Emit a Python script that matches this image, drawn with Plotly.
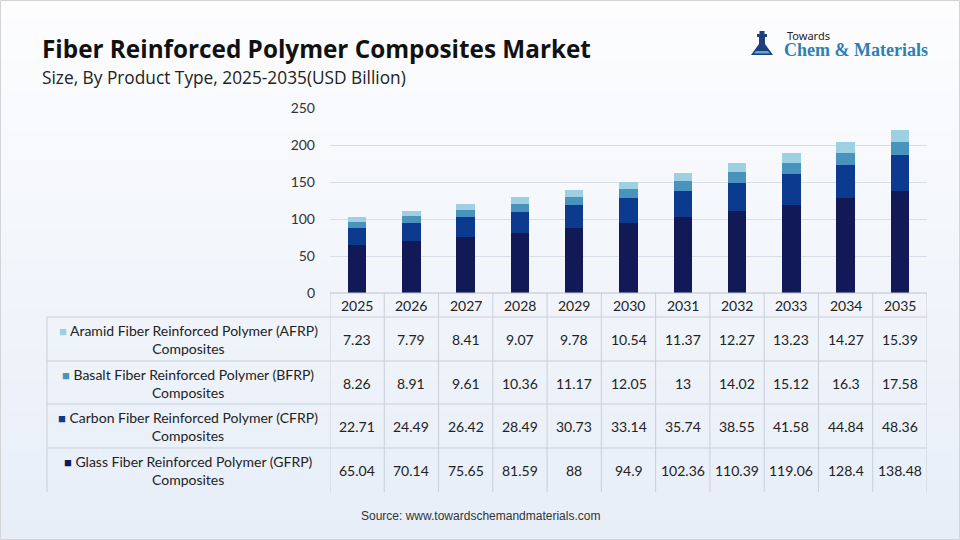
import plotly.graph_objects as go

years = ["2025", "2026", "2027", "2028", "2029", "2030", "2031", "2032", "2033", "2034", "2035"]
aramid = [7.23, 7.79, 8.41, 9.07, 9.78, 10.54, 11.37, 12.27, 13.23, 14.27, 15.39]
basalt = [8.26, 8.91, 9.61, 10.36, 11.17, 12.05, 13, 14.02, 15.12, 16.3, 17.58]
carbon = [22.71, 24.49, 26.42, 28.49, 30.73, 33.14, 35.74, 38.55, 41.58, 44.84, 48.36]
glass = [65.04, 70.14, 75.65, 81.59, 88, 94.9, 102.36, 110.39, 119.06, 128.4, 138.48]

series_names = [
    "Aramid Fiber Reinforced Polymer (AFRP) Composites",
    "Basalt Fiber Reinforced Polymer (BFRP) Composites",
    "Carbon Fiber Reinforced Polymer (CFRP) Composites",
    "Glass Fiber Reinforced Polymer (GFRP) Composites",
]
series_short = [
    "Aramid Fiber Reinforced Polymer (AFRP)",
    "Basalt Fiber Reinforced Polymer (BFRP)",
    "Carbon Fiber Reinforced Polymer (CFRP)",
    "Glass Fiber Reinforced Polymer (GFRP)",
]
series_values = [aramid, basalt, carbon, glass]
colors = ["#9dd0e3", "#4a93bd", "#0b3a8e", "#111a56"]

W, H = 960, 540
X0, X1 = 330, 927
Y0, Y1 = 108, 293
TEXT_FONT = "Lato, Carlito, 'Open Sans', sans-serif"


def py(p):
    return 1 - p / H


def px(p):
    return p / W


fig = go.Figure()

# stacked bars, bottom to top: glass, carbon, basalt, aramid
for i in [3, 2, 1, 0]:
    fig.add_trace(go.Bar(
        x=years, y=series_values[i], name=series_names[i],
        marker=dict(color=colors[i], line=dict(width=0)),
        hoverinfo="x+y+name",
    ))

shapes = []
# background gradient
top = (253, 253, 254)
bot = (231, 238, 248)
n = 54
for k in range(n):
    t = k / (n - 1)
    c = tuple(round(top[j] + (bot[j] - top[j]) * t) for j in range(3))
    shapes.append(dict(type="rect", xref="paper", yref="paper", layer="below",
                       x0=0, x1=1, y0=py((k + 1) * H / n + 0.5), y1=py(k * H / n),
                       fillcolor="rgb(%d,%d,%d)" % c, line=dict(width=0)))
# outer border
shapes.append(dict(type="rect", xref="paper", yref="paper", x0=px(0.5), x1=px(W - 0.5),
                   y0=py(H - 0.5), y1=py(0.5), line=dict(color="#d2d4d8", width=1)))

line_col = "#c8cfd9"
# table horizontal lines
shapes.append(dict(type="line", xref="paper", yref="paper", x0=px(X0), x1=px(X1),
                   y0=py(293), y1=py(293), line=dict(color="#bcc3cd", width=1)))
for yy in [317, 361, 404, 448]:
    shapes.append(dict(type="line", xref="paper", yref="paper", x0=px(47), x1=px(X1),
                       y0=py(yy), y1=py(yy), line=dict(color=line_col, width=1)))
# table vertical lines (on category boundaries)
for k in range(len(years) + 1):
    shapes.append(dict(type="line", xref="x", yref="paper", x0=k - 0.5, x1=k - 0.5,
                       y0=py(492), y1=py(293), line=dict(color=line_col, width=1)))
shapes.append(dict(type="line", xref="paper", yref="paper", x0=px(47), x1=px(47),
                   y0=py(492), y1=py(317), line=dict(color=line_col, width=1)))

# logo flask
shapes.append(dict(type="path", xref="paper", yref="paper",
                   path="M %f %f L %f %f L %f %f L %f %f L %f %f L %f %f Z" % (
                       px(759), py(37), px(765), py(37), px(765), py(44),
                       px(773), py(55), px(751), py(55), px(759), py(44)),
                   fillcolor="#1d3f7a", line=dict(width=0)))
shapes.append(dict(type="rect", xref="paper", yref="paper",
                   x0=px(757), x1=px(767), y0=py(37), y1=py(34),
                   fillcolor="#1d3f7a", line=dict(width=0)))
shapes.append(dict(type="rect", xref="paper", yref="paper",
                   x0=px(759.5), x1=px(764.5), y0=py(34), y1=py(31),
                   fillcolor="#1d3f7a", line=dict(width=0)))
shapes.append(dict(type="path", xref="paper", yref="paper",
                   path="M %f %f L %f %f L %f %f L %f %f Z" % (
                       px(756), py(51), px(768), py(51), px(770), py(53.5), px(754), py(53.5)),
                   fillcolor="#5fa8d8", line=dict(width=0)))

ann = []
# title / subtitle
ann.append(dict(text="<b>Fiber Reinforced Polymer Composites Market</b>", xref="paper", yref="paper",
                x=px(40), y=py(48), xanchor="left", yanchor="middle", showarrow=False,
                font=dict(family="'Open Sans', 'Noto Sans', sans-serif", size=24.3, color="#111111")))
ann.append(dict(text="Size, By Product Type, 2025-2035(USD Billion)", xref="paper", yref="paper",
                x=px(40), y=py(77), xanchor="left", yanchor="middle", showarrow=False,
                font=dict(family="'Open Sans', 'Noto Sans', sans-serif", size=17.3, color="#222222")))
# logo text
ann.append(dict(text="Towards", xref="paper", yref="paper", x=px(786), y=py(36),
                xanchor="left", yanchor="middle", showarrow=False, borderpad=0,
                font=dict(family="'Noto Sans', sans-serif", size=11, color="#222222")))
ann.append(dict(text="<b>Chem &amp; Materials</b>", xref="paper", yref="paper", x=px(783), y=py(50),
                xanchor="left", yanchor="middle", showarrow=False, borderpad=0,
                font=dict(family="'Liberation Serif', 'DejaVu Serif', serif", size=18, color="#2f7fb5")))
# header row: years (category index positions)
for k, y in enumerate(years):
    ann.append(dict(text=y, xref="x", yref="paper", x=k, y=py(305), xanchor="center",
                    yanchor="middle", showarrow=False,
                    font=dict(family=TEXT_FONT, size=14, color="#222222")))
# table rows
row_centers = [339, 383, 426, 470]
for r in range(4):
    label = ("<span style='color:%s;font-size:13px'>■</span> %s<br>Composites"
             % (colors[r], series_short[r]))
    ann.append(dict(text=label, xref="paper", yref="paper", x=px(188), y=py(row_centers[r]),
                    xanchor="center", yanchor="middle", align="center", showarrow=False,
                    font=dict(family=TEXT_FONT, size=14, color="#222222")))
    for k, y in enumerate(years):
        v = series_values[r][k]
        txt = ("%g" % v)
        ann.append(dict(text=txt, xref="x", yref="paper", x=k, y=py(row_centers[r]),
                        xanchor="center", yanchor="middle", showarrow=False,
                        font=dict(family=TEXT_FONT, size=14, color="#222222")))
# source
ann.append(dict(text="Source: www.towardschemandmaterials.com", xref="paper", yref="paper",
                x=0.5, y=py(516), xanchor="center", yanchor="middle", showarrow=False,
                font=dict(family="'Liberation Sans', sans-serif", size=12, color="#333333")))

fig.update_layout(
    width=W, height=H,
    margin=dict(l=0, r=0, t=0, b=0, pad=0),
    paper_bgcolor="#ffffff",
    plot_bgcolor="rgba(0,0,0,0)",
    barmode="stack",
    bargap=0.66,
    showlegend=False,
    shapes=shapes,
    annotations=ann,
    xaxis=dict(type="category", domain=[px(X0), px(X1)], range=[-0.5, len(years) - 0.5],
               showticklabels=False, showgrid=False, automargin=False,
               zeroline=False, showline=False, ticks="", fixedrange=True),
    yaxis=dict(domain=[py(Y1), py(Y0)], range=[0, 250], dtick=50, showgrid=True,
               autorange=False, automargin=False,
               gridcolor="#d8dee7", gridwidth=1, zeroline=False, showline=False,
               ticks="", ticklabelstandoff=14,
               tickfont=dict(family=TEXT_FONT, size=14, color="#333333"), fixedrange=True),
)

fig.write_html("out.html")
